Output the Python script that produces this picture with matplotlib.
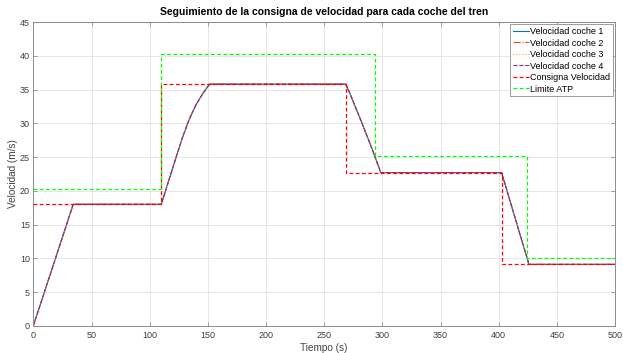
import matplotlib
matplotlib.use("Agg")
import matplotlib.pyplot as plt

# Datos
t_vel = [0, 34.3, 110, 120, 128, 134, 140, 146, 151.5, 268.6, 274.3, 283.7, 291.4, 298.6, 402.5, 426, 500]
v_coche = [0, 18.0, 18.0, 23.5, 27.8, 30.6, 32.8, 34.5, 35.8, 35.8, 33.5, 29.5, 26.1, 22.7, 22.7, 9.1, 9.1]

t_consigna = [0, 110, 268.6, 402.8, 500]
v_consigna = [18.0, 35.8, 22.7, 9.1, 9.1]

t_atp = [0, 110, 293.5, 424, 500]
v_atp = [20.2, 40.2, 25.2, 10.1, 10.1]

xticks = [0, 50, 100, 150, 200, 250, 300, 350, 400, 450, 500]
yticks = [0, 5, 10, 15, 20, 25, 30, 35, 40, 45]

plt.rcParams["font.family"] = ["Liberation Sans", "DejaVu Sans"]

fig = plt.figure(figsize=(6.23, 3.53), dpi=100)
ax = fig.add_axes([0.0535, 0.077, 0.9337, 0.8606])

gris = "#8c8c8c"
ax.plot(t_vel, v_coche, color="#0072BD", lw=0.8, ls="-", label="Velocidad coche 1")
ax.plot(t_vel, v_coche, color="#D95319", lw=0.8, ls="-.", label="Velocidad coche 2")
ax.plot(t_vel, v_coche, color="#EDB120", lw=0.8, ls=":", label="Velocidad coche 3")
ax.plot(t_vel, v_coche, color="#7E2F8E", lw=0.8, ls="--", label="Velocidad coche 4")
ax.plot(t_consigna, v_consigna, color="#ff0000", lw=0.9, ls=(0, (3, 2)),
        drawstyle="steps-post", label="Consigna Velocidad")
ax.plot(t_atp, v_atp, color="#00ff00", lw=0.9, ls=(0, (3, 2)),
        drawstyle="steps-post", label="Limite ATP")

ax.set_xlim(0, 500)
ax.set_ylim(0, 45)
ax.set_xticks(xticks)
ax.set_yticks(yticks)
ax.grid(True, color="#e3e3e3", lw=0.6)
ax.set_axisbelow(True)

for s in ax.spines.values():
    s.set_color(gris)
    s.set_linewidth(0.7)
ax.tick_params(direction="in", top=True, right=True, length=3, width=0.6,
               color=gris, labelsize=6.5, labelcolor="#404040")
ax.tick_params(axis="x", pad=4)
ax.tick_params(axis="y", pad=2.5)

ax.set_title("Seguimiento de la consigna de velocidad para cada coche del tren",
             fontsize=7.5, fontweight="bold", pad=5)
ax.set_xlabel("Tiempo (s)", fontsize=7.2, color="#404040")
ax.set_ylabel("Velocidad (m/s)", fontsize=7.2, color="#404040")
ax.xaxis.set_label_coords(0.5, -0.058)
ax.yaxis.set_label_coords(-0.027, 0.5)

leg = ax.legend(loc="upper right", fontsize=6.5, handlelength=1.8, handletextpad=0.1,
                labelspacing=0.28, borderpad=0.3, borderaxespad=0.25,
                fancybox=False, framealpha=1)
leg.get_frame().set_edgecolor(gris)
leg.get_frame().set_linewidth(0.6)

fig.savefig("out.png", dpi=100)
